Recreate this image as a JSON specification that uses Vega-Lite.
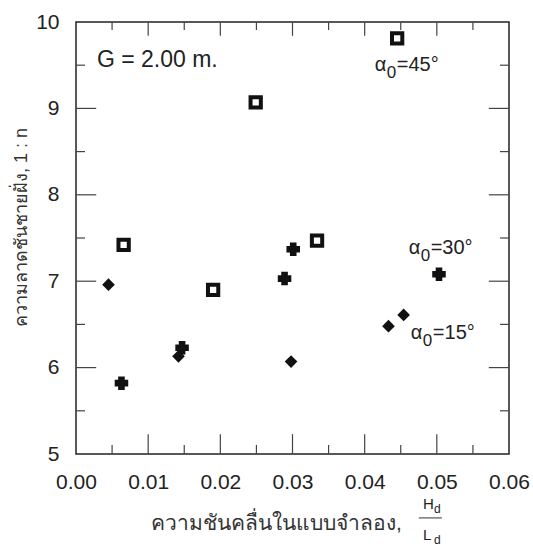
{
  "$schema": "https://vega.github.io/schema/vega-lite/v6.json",
  "width": 433,
  "height": 432,
  "padding": {"left": 12, "top": 11, "right": 5, "bottom": 5},
  "background": "white",
  "config": {
    "view": {"stroke": "#222", "strokeWidth": 1.5},
    "axis": {
      "grid": false,
      "labelFont": "Liberation Sans",
      "titleFont": "Liberation Sans",
      "labelColor": "#222",
      "titleColor": "#333",
      "titleFontWeight": "normal",
      "labelFlush": false,
      "labelOverlap": false,
      "ticks": false,
      "domain": false,
      "tickSize": 0
    },
    "rule": {"color": "#444", "strokeWidth": 1.2},
    "text": {"font": "Liberation Sans", "color": "#222"}
  },
  "datasets": {
    "pts": [
      {"series": "45", "hl": 0.0066, "slope": 7.42},
      {"series": "45", "hl": 0.0190, "slope": 6.90},
      {"series": "45", "hl": 0.0249, "slope": 9.07},
      {"series": "45", "hl": 0.0334, "slope": 7.47},
      {"series": "45", "hl": 0.0445, "slope": 9.81},
      {"series": "30", "hl": 0.0063, "slope": 5.82},
      {"series": "30", "hl": 0.0147, "slope": 6.23},
      {"series": "30", "hl": 0.0289, "slope": 7.03},
      {"series": "30", "hl": 0.0301, "slope": 7.37},
      {"series": "30", "hl": 0.0503, "slope": 7.08},
      {"series": "15", "hl": 0.0045, "slope": 6.96},
      {"series": "15", "hl": 0.0142, "slope": 6.13},
      {"series": "15", "hl": 0.0298, "slope": 6.07},
      {"series": "15", "hl": 0.0433, "slope": 6.48},
      {"series": "15", "hl": 0.0454, "slope": 6.61}
    ],
    "xMajor": [{"v": 0.01}, {"v": 0.02}, {"v": 0.03}, {"v": 0.04}, {"v": 0.05}],
    "xMinor": [{"v": 0.005}, {"v": 0.015}, {"v": 0.025}, {"v": 0.035}, {"v": 0.045}, {"v": 0.055}],
    "yMajor": [{"v": 6}, {"v": 7}, {"v": 8}, {"v": 9}],
    "yMinor": [{"v": 5.5}, {"v": 6.5}, {"v": 7.5}, {"v": 8.5}, {"v": 9.5}],
    "note": [{"x": 0.0029, "y": 9.56, "label": "G = 2.00 m."}],
    "angles": [
      {"x": 0.0414, "y": 9.43, "rest": "=45°"},
      {"x": 0.0461, "y": 7.31, "rest": "=30°"},
      {"x": 0.0464, "y": 6.33, "rest": "=15°"}
    ],
    "frac": [
      {"x": 0.0481, "y": 4.36, "t": "H"},
      {"x": 0.0481, "y": 4.0, "t": "L"}
    ],
    "bar": [{"x": 0.0475, "x2": 0.0507, "y": 4.26}]
  },
  "layer": [
    {
      "data": {"name": "pts"},
      "mark": {"type": "point", "filled": true, "opacity": 1, "stroke": "#111"},
      "encoding": {
        "x": {
          "field": "hl", "type": "quantitative",
          "scale": {"domain": [0, 0.06], "nice": false, "zero": false},
          "axis": {
            "orient": "bottom",
            "values": [0, 0.01, 0.02, 0.03, 0.04, 0.05, 0.06],
            "format": ".2f",
            "labelFontSize": 21,
            "labelPadding": 17,
            "title": "ความชันคลื่นในแบบจำลอง,",
            "titleFontSize": 21,
            "titlePadding": 20,
            "titleX": 200
          }
        },
        "y": {
          "field": "slope", "type": "quantitative",
          "scale": {"domain": [5, 10], "nice": false, "zero": false},
          "axis": {
            "orient": "left",
            "values": [5, 6, 7, 8, 9, 10],
            "format": "d",
            "labelFontSize": 21,
            "labelPadding": 17,
            "title": "ความลาดชันชายฝั่ง, 1 : n",
            "titleFontSize": 18,
            "titlePadding": 5,
            "titleY": 205
          }
        },
        "shape": {
          "field": "series", "type": "nominal",
          "scale": {"domain": ["45", "30", "15"], "range": ["square", "cross", "diamond"]},
          "legend": null
        },
        "fill": {
          "field": "series", "type": "nominal",
          "scale": {"domain": ["45", "30", "15"], "range": ["white", "#111", "#111"]},
          "legend": null
        },
        "strokeWidth": {
          "field": "series", "type": "nominal",
          "scale": {"domain": ["45", "30", "15"], "range": [4, 0, 0]},
          "legend": null
        },
        "size": {
          "field": "series", "type": "nominal",
          "scale": {"domain": ["45", "30", "15"], "range": [106, 160, 135]},
          "legend": null
        }
      }
    },
    {
      "data": {"name": "xMajor"},
      "mark": {"type": "rule"},
      "encoding": {
        "x": {"field": "v", "type": "quantitative"},
        "y": {"datum": 5, "type": "quantitative"},
        "y2": {"datum": 5.23}
      }
    },
    {
      "data": {"name": "xMinor"},
      "mark": {"type": "rule"},
      "encoding": {
        "x": {"field": "v", "type": "quantitative"},
        "y": {"datum": 5, "type": "quantitative"},
        "y2": {"datum": 5.105}
      }
    },
    {
      "data": {"name": "xMajor"},
      "mark": {"type": "rule"},
      "encoding": {
        "x": {"field": "v", "type": "quantitative"},
        "y": {"datum": 10, "type": "quantitative"},
        "y2": {"datum": 9.84}
      }
    },
    {
      "data": {"name": "xMinor"},
      "mark": {"type": "rule"},
      "encoding": {
        "x": {"field": "v", "type": "quantitative"},
        "y": {"datum": 10, "type": "quantitative"},
        "y2": {"datum": 9.907}
      }
    },
    {
      "data": {"name": "yMajor"},
      "mark": {"type": "rule"},
      "encoding": {
        "y": {"field": "v", "type": "quantitative"},
        "x": {"datum": 0, "type": "quantitative"},
        "x2": {"datum": 0.0028}
      }
    },
    {
      "data": {"name": "yMinor"},
      "mark": {"type": "rule"},
      "encoding": {
        "y": {"field": "v", "type": "quantitative"},
        "x": {"datum": 0, "type": "quantitative"},
        "x2": {"datum": 0.00125}
      }
    },
    {
      "data": {"name": "yMajor"},
      "mark": {"type": "rule"},
      "encoding": {
        "y": {"field": "v", "type": "quantitative"},
        "x": {"datum": 0.06, "type": "quantitative"},
        "x2": {"datum": 0.0572}
      }
    },
    {
      "data": {"name": "yMinor"},
      "mark": {"type": "rule"},
      "encoding": {
        "y": {"field": "v", "type": "quantitative"},
        "x": {"datum": 0.06, "type": "quantitative"},
        "x2": {"datum": 0.05875}
      }
    },
    {
      "data": {"name": "note"},
      "mark": {"type": "text", "align": "left", "baseline": "middle", "fontSize": 23},
      "encoding": {
        "x": {"field": "x", "type": "quantitative"},
        "y": {"field": "y", "type": "quantitative"},
        "text": {"field": "label"}
      }
    },
    {
      "data": {"name": "angles"},
      "mark": {"type": "text", "align": "left", "baseline": "alphabetic", "fontSize": 20},
      "encoding": {
        "x": {"field": "x", "type": "quantitative"},
        "y": {"field": "y", "type": "quantitative"},
        "text": {"value": "α"}
      }
    },
    {
      "data": {"name": "angles"},
      "mark": {"type": "text", "align": "left", "baseline": "alphabetic", "fontSize": 17, "dx": 12, "dy": 7},
      "encoding": {
        "x": {"field": "x", "type": "quantitative"},
        "y": {"field": "y", "type": "quantitative"},
        "text": {"value": "0"}
      }
    },
    {
      "data": {"name": "angles"},
      "mark": {"type": "text", "align": "left", "baseline": "alphabetic", "fontSize": 20, "dx": 22},
      "encoding": {
        "x": {"field": "x", "type": "quantitative"},
        "y": {"field": "y", "type": "quantitative"},
        "text": {"field": "rest"}
      }
    },
    {
      "data": {"name": "frac"},
      "mark": {"type": "text", "align": "left", "baseline": "alphabetic", "fontSize": 15},
      "encoding": {
        "x": {"field": "x", "type": "quantitative"},
        "y": {"field": "y", "type": "quantitative"},
        "text": {"field": "t"}
      }
    },
    {
      "data": {"name": "frac"},
      "mark": {"type": "text", "align": "left", "baseline": "alphabetic", "fontSize": 12, "dx": 11, "dy": 4},
      "encoding": {
        "x": {"field": "x", "type": "quantitative"},
        "y": {"field": "y", "type": "quantitative"},
        "text": {"value": "d"}
      }
    },
    {
      "data": {"name": "bar"},
      "mark": {"type": "rule", "color": "#333", "strokeWidth": 1},
      "encoding": {
        "x": {"field": "x", "type": "quantitative"},
        "x2": {"field": "x2"},
        "y": {"field": "y", "type": "quantitative"}
      }
    }
  ]
}
